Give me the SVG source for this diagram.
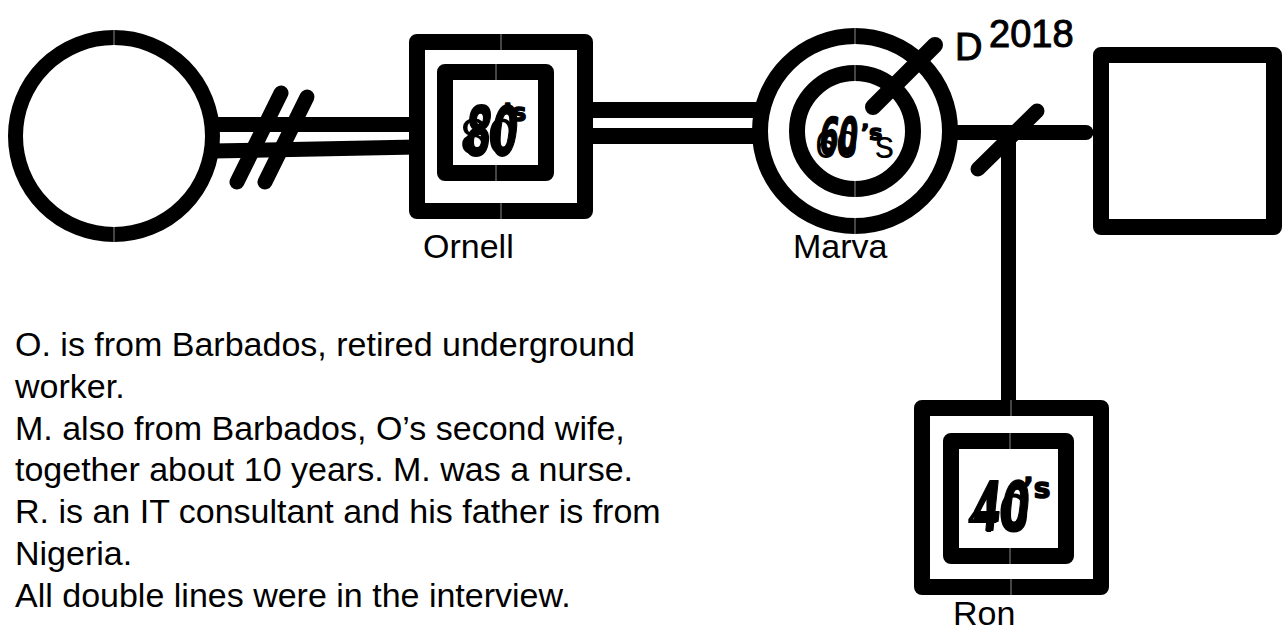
<svg xmlns="http://www.w3.org/2000/svg" width="1282" height="644" viewBox="0 0 1282 644">
  <style>
    .shape { fill: #fff; stroke: #000; stroke-width: 16; stroke-linejoin: round; }
    .line { fill: none; stroke: #000; stroke-width: 15; stroke-linecap: butt; }
    .mark { fill: none; stroke: #000; stroke-width: 15; stroke-linecap: round; }
    .seam { stroke: #8a8a8a; stroke-width: 1; }
    .t { font-family: "Liberation Sans", Arial, sans-serif; fill: #000; }
    .lbl { font-size: 34px; }
    .hw { font-family: "DejaVu Sans", sans-serif; font-weight: bold; fill: #000; stroke: #000; stroke-width: 1.5; stroke-linejoin: round; }
  </style>
  <rect width="1282" height="644" fill="#fff"/>

  <g id="connectors">
    <!-- divorced double line: left circle to Ornell -->
    <line class="line" x1="212" y1="124.5" x2="417" y2="124.5"/>
    <line class="line" x1="212" y1="151" x2="417" y2="147"/>
    <line class="mark" x1="281" y1="93" x2="237" y2="182"/>
    <line class="mark" x1="307" y1="97" x2="265" y2="182"/>
    <!-- double line: Ornell to Marva -->
    <line class="line" x1="585" y1="110" x2="762" y2="110" style="stroke-width:16"/>
    <line class="line" x1="585" y1="136" x2="762" y2="136" style="stroke-width:16"/>
    <!-- Marva to right partner, separated -->
    <line class="line" x1="950" y1="132.5" x2="1086" y2="132.5" style="stroke-linecap:round"/>
    <line class="mark" x1="1037" y1="111" x2="978" y2="169"/>
    <!-- descent to Ron -->
    <line class="line" x1="1008.5" y1="133" x2="1008.5" y2="410"/>
  </g>

  <g id="node-left-woman">
    <circle class="shape" cx="114" cy="136" r="98.5" style="stroke-width:15"/>
    <line class="seam" x1="114" y1="30" x2="114" y2="45"/>
    <line class="seam" x1="114" y1="227" x2="114" y2="242"/>
  </g>

  <g id="node-ornell">
    <rect class="shape" x="417" y="42" width="168" height="169"/>
    <rect class="shape" x="445" y="72" width="101" height="101"/>
    <line class="seam" x1="501" y1="34" x2="501" y2="50"/>
    <line class="seam" x1="501" y1="203" x2="501" y2="219"/>
    <line class="seam" x1="496" y1="64" x2="496" y2="80"/>
    <line class="seam" x1="496" y1="165" x2="496" y2="181"/>
    <text class="t" x="460" y="154" font-size="50">80</text>
    <text class="hw" transform="translate(463,155) skewX(-6) scale(0.7,1.25)" font-size="54">80</text>
    <text class="hw" x="503" y="121" font-size="24">’s</text>
    <text class="t lbl" x="423" y="258">Ornell</text>
  </g>

  <g id="node-marva">
    <circle class="shape" cx="855" cy="131" r="95"/>
    <circle class="shape" cx="855" cy="131" r="58"/>
    <line class="seam" x1="855" y1="28" x2="855" y2="44"/>
    <line class="seam" x1="855" y1="218" x2="855" y2="234"/>
    <line class="seam" x1="855" y1="65" x2="855" y2="81"/>
    <line class="seam" x1="855" y1="181" x2="855" y2="197"/>
    <text class="t" x="815" y="158" font-size="38">60<tspan dx="10">’s</tspan></text>
    <text class="hw" transform="translate(818,154) skewX(-6) scale(0.62,1.15)" font-size="44">60</text>
    <text class="hw" x="861" y="140" font-size="22">’s</text>
    <line class="mark" x1="873" y1="107" x2="935" y2="45" style="stroke-width:16"/>
    <text class="t" x="955" y="60" font-size="38" stroke="#000" stroke-width="1">D</text>
    <text class="t" x="989" y="47" font-size="38" stroke="#000" stroke-width="1">2018</text>
    <text class="t lbl" x="793" y="258">Marva</text>
  </g>

  <g id="node-right-man">
    <rect class="shape" x="1101" y="55" width="173" height="172"/>
  </g>

  <g id="node-ron">
    <rect class="shape" x="922" y="408" width="179" height="179"/>
    <rect class="shape" x="951" y="441" width="115" height="115"/>
    <line class="seam" x1="1011" y1="400" x2="1011" y2="416"/>
    <line class="seam" x1="1011" y1="579" x2="1011" y2="595"/>
    <line class="seam" x1="1010" y1="433" x2="1010" y2="449"/>
    <line class="seam" x1="1010" y1="548" x2="1010" y2="564"/>
    <text class="t" x="967" y="532" font-size="56">40</text>
    <text class="hw" transform="translate(971,530) skewX(-6) scale(0.72,1.2)" font-size="56">40</text>
    <text class="hw" x="1023" y="498" font-size="28">’s</text>
    <text class="t lbl" x="953" y="625">Ron</text>
  </g>

  <g id="notes" class="t" font-size="34">
    <text x="15" y="356">O. is from Barbados, retired underground</text>
    <text x="15" y="398">worker.</text>
    <text x="15" y="440">M. also from Barbados, O’s second wife,</text>
    <text x="15" y="481">together about 10 years. M. was a nurse.</text>
    <text x="15" y="523">R. is an IT consultant and his father is from</text>
    <text x="15" y="565">Nigeria.</text>
    <text x="15" y="607">All double lines were in the interview.</text>
  </g>
</svg>
